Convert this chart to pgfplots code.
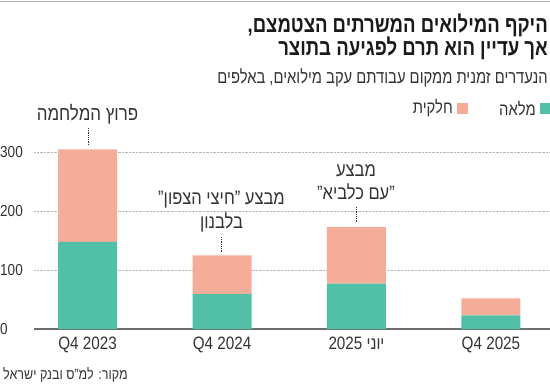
\documentclass[border=0pt]{standalone}
\usepackage{fontspec}
\setmainfont{Liberation Sans}[FakeStretch=0.85]
\newfontfamily\hb[Script=Hebrew,FakeStretch=0.85]{Liberation Sans}
\newfontfamily\hbc[Script=Hebrew,FakeStretch=0.81]{Liberation Sans}
\usepackage{pgfplots}
\pgfplotsset{compat=1.18}
\TeXXeTstate=1
\definecolor{full}{HTML}{52C0A6}
\definecolor{part}{HTML}{F4AD99}
\definecolor{txt}{HTML}{333333}
\definecolor{ttl}{HTML}{1A1A1A}
\definecolor{base}{HTML}{6E6E6E}

\begin{document}
\begin{tikzpicture}[x=1bp,y=1bp]
\useasboundingbox (0,0) rectangle (550,383);
\draw[gray!60, line width=1.2bp] (0,381.6) -- (550,381.6);
\begin{axis}[
  at={(34bp,54bp)}, anchor=south west,
  scale only axis, width=516bp, height=188.5bp,
  ymin=0, ymax=320, xmin=-0.398, xmax=3.439,
  axis line style={draw=none},
  tick style={draw=none},
  major tick length=0pt,
  ybar stacked, bar width=59bp,
  xtick={0,1,2,3},
  xticklabels={Q4 2023, Q4 2024, {\hb\beginR יוני 2025\endR}, Q4 2025},
  ytick={0,100,200,300},
  ymajorgrids, grid style={densely dotted, gray!55, line width=0.6bp},
  /pgf/number format/assume math mode=true,
  yticklabel style={anchor=west, xshift=-34bp, inner sep=0pt, font=\fontsize{16}{16}\selectfont, text=txt},
  xticklabel style={anchor=base, yshift=-20bp, inner sep=0pt, font=\fontsize{18}{18}\selectfont, text=txt},
  clip=false,
]
\addplot[fill=full, draw=none] coordinates {(0,148) (1,59) (2,77) (3,23)};
\addplot[fill=part, draw=none] coordinates {(0,157) (1,66) (2,96) (3,29)};
\draw[base, line width=1.6bp] (axis cs:-0.398,0) -- (axis cs:3.439,0);
\end{axis}
% title
\node[anchor=base east, inner sep=0pt, text=ttl, font=\hbc\bfseries\fontsize{23}{23}\selectfont] at (548,351) {\beginR היקף המילואים המשרתים הצטמצם,\endR};
\node[anchor=base east, inner sep=0pt, text=ttl, font=\hbc\bfseries\fontsize{23}{23}\selectfont] at (548,328) {\beginR אך עדיין הוא תרם לפגיעה בתוצר\endR};
\node[anchor=base east, inner sep=0pt, text=txt, font=\hbc\fontsize{18.3}{18.3}\selectfont] at (548,300) {\beginR הנעדרים זמנית ממקום עבודתם עקב מילואים, באלפים\endR};
% legend
\fill[full] (539.5,269) rectangle (550,280);
\node[anchor=east, inner sep=0pt, text=txt, font=\hb\fontsize{17.5}{17.5}\selectfont] at (536,274.5) {\beginR מלאה\endR};
\fill[part] (457,269) rectangle (468,280);
\node[anchor=east, inner sep=0pt, text=txt, font=\hb\fontsize{17.5}{17.5}\selectfont] at (453,274.5) {\beginR חלקית\endR};
% annotations
\node[inner sep=0pt, text=txt, font=\hb\fontsize{20}{20}\selectfont] at (87.5,269) {\beginR פרוץ המלחמה\endR};
\draw[densely dotted, txt, line width=0.8bp] (88,255) -- (88,238);
\node[inner sep=0pt, text=txt, font=\hb\fontsize{19.5}{19.5}\selectfont] at (221.5,183.5) {\beginR מבצע ”חיצי הצפון”\endR};
\node[inner sep=0pt, text=txt, font=\hb\fontsize{19.5}{19.5}\selectfont] at (221.5,160.5) {\beginR בלבנון\endR};
\draw[densely dotted, txt, line width=0.8bp] (221.5,146) -- (221.5,131);
\node[inner sep=0pt, text=txt, font=\hb\fontsize{19.5}{19.5}\selectfont] at (356,212.5) {\beginR מבצע\endR};
\node[inner sep=0pt, text=txt, font=\hb\fontsize{19.5}{19.5}\selectfont] at (356,191.5) {\beginR ”עם כלביא”\endR};
\draw[densely dotted, txt, line width=0.8bp] (356,176) -- (356,161);
% source
\node[anchor=base west, inner sep=0pt, text=txt, font=\hb\fontsize{14.8}{14.8}\selectfont] at (3,4) {\beginR מקור: למ”ס ובנק ישראל\endR};
\end{tikzpicture}
\end{document}
